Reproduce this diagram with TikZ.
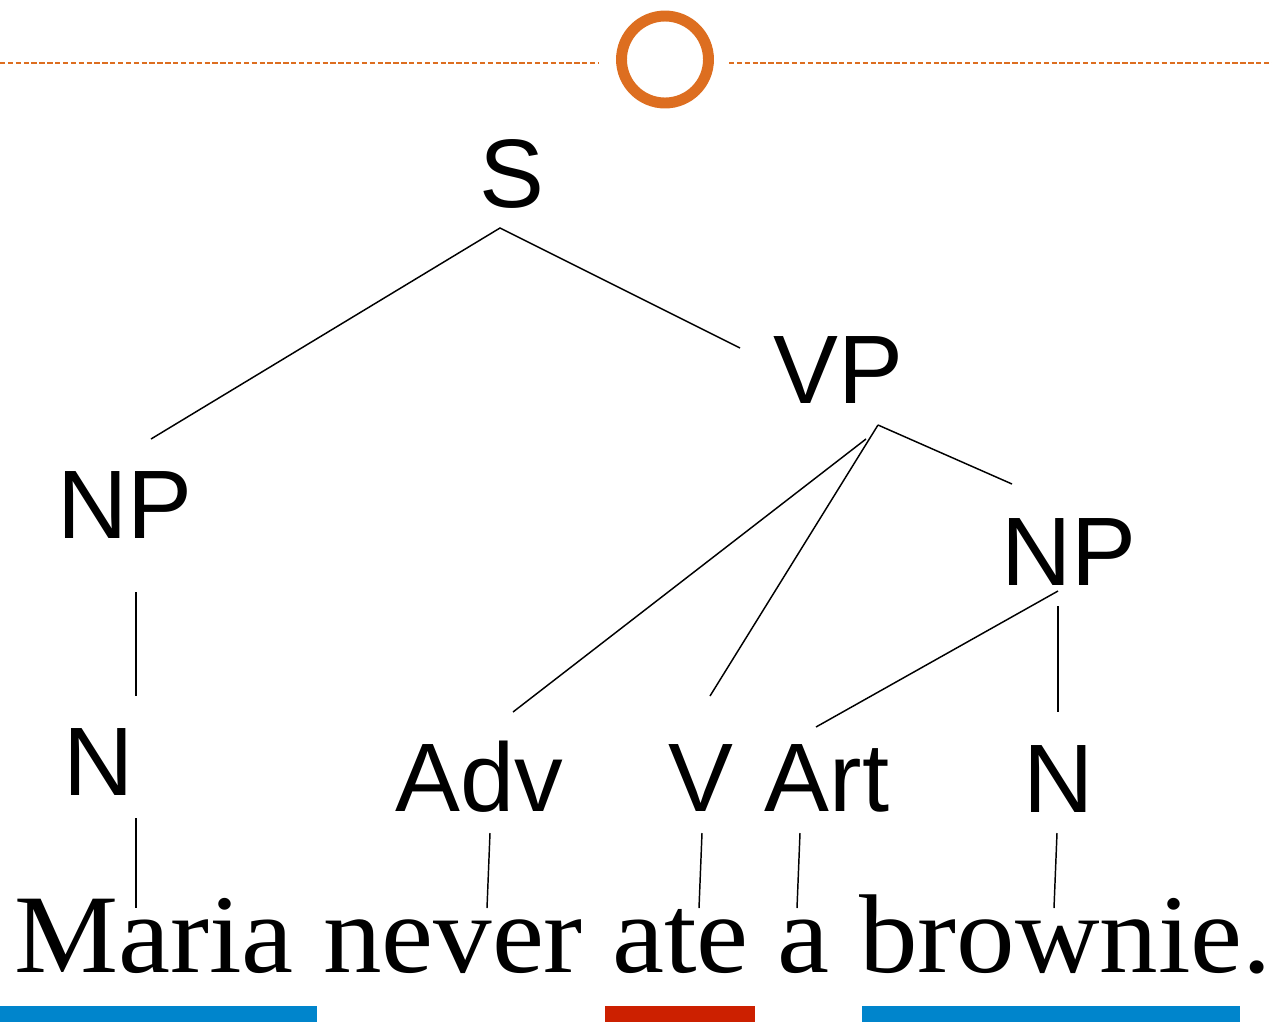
\documentclass[tikz,border=0pt]{standalone}
\usepackage{fontspec}
\setmainfont{Liberation Sans}
\newfontfamily\sentfont{Liberation Serif}
\definecolor{ringorange}{RGB}{221,110,32}
\definecolor{barblue}{RGB}{0,133,204}
\definecolor{barred}{RGB}{204,32,0}
\tikzset{
  cat/.style={inner sep=0pt, anchor=base, font=\fontsize{73}{80}\selectfont},
  branch/.style={line width=1.1pt},
}
\begin{document}
\begin{tikzpicture}[x=0.75pt,y=-0.75pt]
    \useasboundingbox (0,0) rectangle (1272,1022);
    % header rule and ring
    \draw[ringorange, line width=1.5pt, dash pattern=on 4pt off 1.9pt] (0,62.5) -- (599,62.5);
    \draw[ringorange, line width=1.5pt, dash pattern=on 4pt off 1.9pt] (729,62.5) -- (1272,62.5);
    \draw[ringorange, line width=8.2pt] (665,59.5) circle (43.5);
    % categories
    \node[cat] (S) at (511.5,207) {S};
    \node[cat] (VP) at (838,403) {VP};
    \node[cat] (NPa) at (125,538) {NP};
    \node[cat] (NPb) at (1069,585) {NP};
    \node[cat] (Na) at (99,795) {N};
    \node[cat] (Adv) at (479,811) {Adv};
    \node[cat] (V) at (700.5,811) {V};
    \node[cat] (Art) at (827,811) {Art};
    \node[cat] (Nb) at (1059,812) {N};
    \node[inner sep=0pt, anchor=base west, font=\sentfont\fontsize{84}{90}\selectfont] (sent) at (14,972)
        {\scalebox{1.045}[1]{Maria never ate a brownie.}};
    % branch ends
    \coordinate (S-foot) at (500,228);
    \coordinate (NPa-head) at (151,439);
    \coordinate (VP-head) at (740,348);
    \coordinate (VP-foot) at (878,425);
    \coordinate (VP-foot2) at (866,439);
    \coordinate (NPb-head) at (1012,484);
    \coordinate (Adv-head) at (513,712);
    \coordinate (V-head) at (710,696);
    \coordinate (NPa-foot) at (136,592);
    \coordinate (Na-head) at (136,696);
    \coordinate (NPb-foot) at (1058,591);
    \coordinate (NPb-foot2) at (1058,606);
    \coordinate (Art-head) at (816,727);
    \coordinate (Nb-head) at (1058,712);
    \draw[branch] (NPa-head) -- (S-foot) -- (VP-head);
    \draw[branch] (VP-foot) -- (NPb-head);
    \draw[branch] (VP-foot) -- (V-head);
    \draw[branch] (VP-foot2) -- (Adv-head);
    \draw[branch] (NPa-foot) -- (Na-head);
    \draw[branch] (NPb-foot) -- (Art-head);
    \draw[branch] (NPb-foot2) -- (Nb-head);
    % words
    \foreach \n/\xa/\ya/\xb in {Na/136/818/136, Adv/490/833/487, V/702/833/699, Art/800/833/797, Nb/1057/833/1054}{
        \coordinate (\n-foot) at (\xa,\ya);
        \coordinate (\n-word) at (\xb,908);
        \draw[branch] (\n-foot) -- (\n-word);
    }
    % bars
    \fill[barblue] (0,1006) rectangle (317,1022);
    \fill[barred] (605,1006) rectangle (755,1022);
    \fill[barblue] (862,1006) rectangle (1240,1022);
\end{tikzpicture}
\end{document}
